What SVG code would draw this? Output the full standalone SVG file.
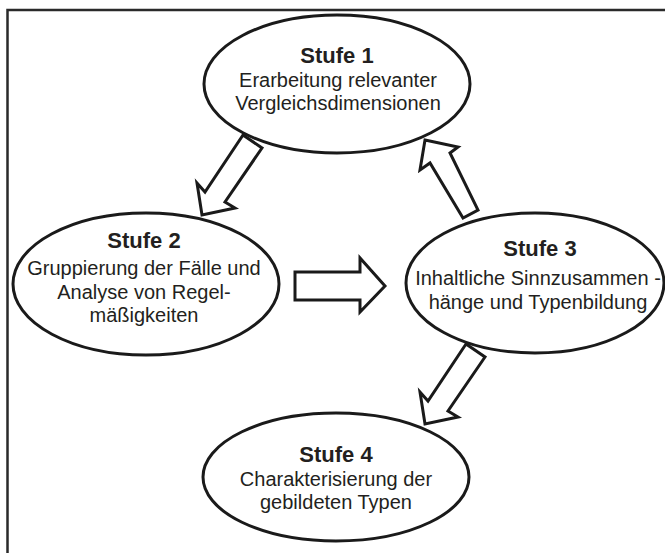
<svg xmlns="http://www.w3.org/2000/svg" width="665" height="553" viewBox="0 0 665 553">
  <style>
    .stage { fill: #ffffff; stroke: #1a1a1a; stroke-width: 3; }
    .arrow { fill: #ffffff; stroke: #1a1a1a; stroke-width: 3; stroke-linejoin: miter; }
    .frame { fill: none; stroke: #2a2a2a; stroke-width: 2.5; }
    text { font-family: "Liberation Sans", Arial, Helvetica, sans-serif; fill: #231f20; text-anchor: middle; }
    .title { font-size: 22px; font-weight: bold; }
    .body { font-size: 20px; }
  </style>

  <rect width="665" height="553" fill="#ffffff"/>

  <!-- frame: top and left edges only -->
  <path class="frame" d="M7.5,553 V10 H665"/>

  <!-- block arrows between the stages -->
  <g id="connectors">
    <polygon class="arrow" points="243,135 262,148 225,202 235,208 202,215 197,183 205,192"/>
    <polygon class="arrow" points="425,140 458,147 450,153 478,210 463,218 430,163 420,170"/>
    <polygon class="arrow" points="295,272 360,272 360,258 385,286 360,312 360,300 295,300"/>
    <polygon class="arrow" points="466,344 485,357 448,411 458,417 425,424 420,392 428,401"/>
  </g>

  <g id="stufe1">
    <ellipse class="stage" cx="337" cy="84" rx="133" ry="69"/>
    <text class="title" x="337" y="63">Stufe 1</text>
    <text class="body" x="338" y="87">Erarbeitung relevanter</text>
    <text class="body" x="338" y="110">Vergleichsdimensionen</text>
  </g>

  <g id="stufe2">
    <ellipse class="stage" cx="146" cy="284" rx="133" ry="71"/>
    <text class="title" x="144" y="248">Stufe 2</text>
    <text class="body" x="144" y="275">Gruppierung der Fälle und</text>
    <text class="body" x="144" y="299">Analyse von Regel-</text>
    <text class="body" x="144" y="322">mäßigkeiten</text>
  </g>

  <g id="stufe3">
    <ellipse class="stage" cx="535" cy="283" rx="129" ry="70"/>
    <text class="title" x="540" y="256">Stufe 3</text>
    <text class="body" x="538" y="285">Inhaltliche Sinnzusammen -</text>
    <text class="body" x="538" y="309">hänge und Typenbildung</text>
  </g>

  <g id="stufe4">
    <ellipse class="stage" cx="336" cy="477" rx="133" ry="64"/>
    <text class="title" x="336" y="462">Stufe 4</text>
    <text class="body" x="336" y="486">Charakterisierung der</text>
    <text class="body" x="336" y="509">gebildeten Typen</text>
  </g>
</svg>
